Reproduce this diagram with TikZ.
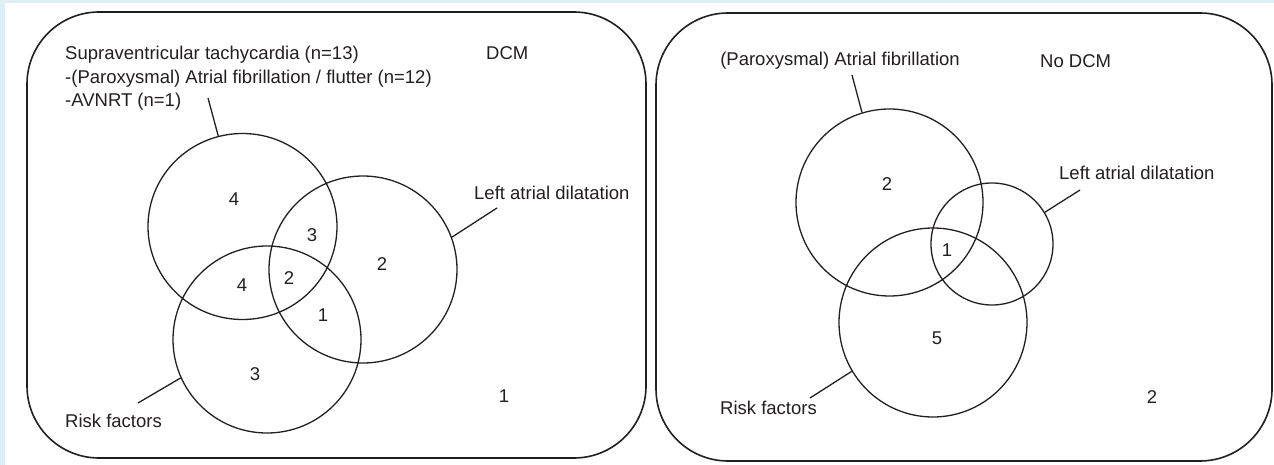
\documentclass[tikz,border=0pt]{standalone}
\usepackage{fontspec}
\setmainfont{Liberation Sans}
\usetikzlibrary{shapes.geometric}
\definecolor{framebg}{HTML}{DDEEF4}
\definecolor{ink}{HTML}{231F20}
\tikzset{
  panel/.style={draw=ink, line width=1.6pt, rounded corners=72pt, inner sep=0pt},
  set/.style={draw=ink, line width=1.3pt, ellipse, inner sep=0pt},
  leader/.style={draw=ink, line width=1.3pt},
  lbl/.style={text=ink, inner sep=0pt, font=\fontsize{18.5}{23.5}\selectfont},
  num/.style={text=ink, inner sep=0pt, font=\fontsize{18.5}{23.5}\selectfont},
}
\begin{document}
\begin{tikzpicture}[x=1pt, y=-1pt]
\useasboundingbox (0,0) rectangle (1274,465);
\fill[framebg] (0,0) rectangle (1274,465);
\fill[white] (5,3) rectangle (1274,465);

% panels
\node[panel, minimum width=619pt, minimum height=446pt] (dcm) at (336.5,235) {};
\node[panel, minimum width=616pt, minimum height=448pt] (nodcm) at (964,237) {};

% ---- left panel: DCM ----
\node[set, minimum width=189pt, minimum height=186pt] (A) at (242.5,226.5) {};
\node[set, minimum width=188pt, minimum height=187pt] (B) at (363,269.5) {};
\node[set, minimum width=188pt, minimum height=187pt] (C) at (267,339.5) {};

\node[lbl, anchor=north west, align=left] (svt) at (65,46) {Supraventricular tachycardia (n=13)\\-(Paroxysmal) Atrial fibrillation / flutter (n=12)\\-AVNRT (n=1)};
\node[lbl, anchor=west] (dcmt) at (486,53) {DCM};
\node[lbl, anchor=west] (ladl) at (474,193) {Left atrial dilatation};
\node[lbl, anchor=west] (rfl) at (65,421) {Risk factors};

\coordinate (svtS) at (208,98);
\coordinate (ladS) at (497,208);
\coordinate (rfS) at (138,403);
\draw[leader] (svtS) -- (A.105.9);
\draw[leader] (ladS) -- (B.20);
\draw[leader] (rfS) -- (C.204.4);

\node[num] (nA) at (234,199) {4};
\node[num] (nAB) at (312,235) {3};
\node[num] (nB) at (382,264) {2};
\node[num] (nAC) at (242,285) {4};
\node[num] (nABC) at (289,278) {2};
\node[num] (nBC) at (323,315) {1};
\node[num] (nC) at (255,374) {3};
\node[num] (nO) at (504,396) {1};

% ---- right panel: No DCM ----
\node[set, minimum width=187pt, minimum height=187pt] (D) at (889.5,202.5) {};
\node[set, minimum width=122pt, minimum height=122pt] (E) at (992,244) {};
\node[set, minimum width=188pt, minimum height=189pt] (F) at (933,322.5) {};

\node[lbl, anchor=east] (afl) at (960,61) {(Paroxysmal) Atrial fibrillation};
\node[lbl, anchor=west] (nodcmt) at (1040,61) {No DCM};
\node[lbl, anchor=west] (lad2) at (1059,173) {Left atrial dilatation};
\node[lbl, anchor=east] (rf2) at (817,408) {Risk factors};

\coordinate (afS) at (852,75);
\coordinate (lad2S) at (1080,190);
\coordinate (rf2S) at (810,398);
\draw[leader] (afS) -- (D.107.5);
\draw[leader] (lad2S) -- (E.31.3);
\draw[leader] (rf2S) -- (F.211.4);

\node[num] (nD) at (887,184) {2};
\node[num] (nDEF) at (947,250) {1};
\node[num] (nF) at (937,338) {5};
\node[num] (nO2) at (1152,397) {2};
\end{tikzpicture}
\end{document}
